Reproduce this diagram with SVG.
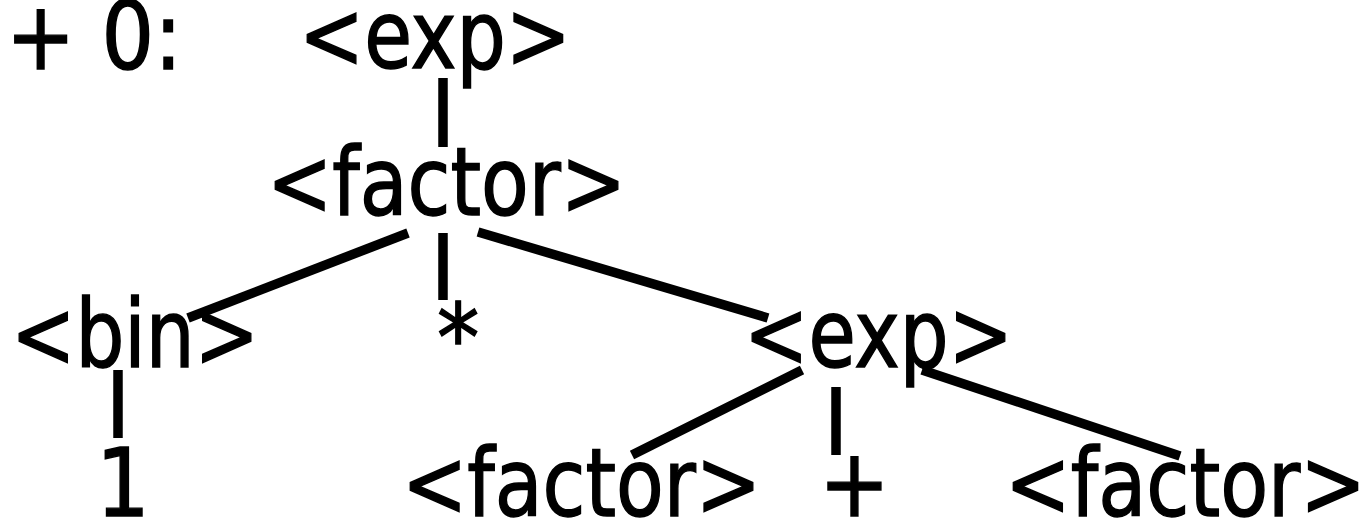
<svg xmlns="http://www.w3.org/2000/svg" width="1367" height="521" viewBox="0 0 1367 521">
<style>
text{font-family:"DejaVu Sans Condensed","DejaVu Sans",sans-serif;font-stretch:condensed;font-size:94px;fill:#000;stroke:#000;stroke-width:1.4}
.c line{stroke:#000;stroke-width:9.5}
</style>
<rect width="1367" height="521" fill="#fff"/>
<g id="label"><text x="6" y="69" textLength="176" lengthAdjust="spacingAndGlyphs">+ 0:</text></g>
<g id="n-exp1"><text x="299" y="68" textLength="272" lengthAdjust="spacingAndGlyphs">&lt;exp&gt;</text></g>
<g id="n-factor1"><text x="267" y="215" textLength="359" lengthAdjust="spacingAndGlyphs">&lt;factor&gt;</text></g>
<g id="n-bin"><text x="11" y="367" textLength="248" lengthAdjust="spacingAndGlyphs">&lt;bin&gt;</text></g>
<g id="n-star"><text x="437" y="371">*</text></g>
<g id="n-exp2"><text x="744" y="367" textLength="269" lengthAdjust="spacingAndGlyphs">&lt;exp&gt;</text></g>
<g id="n-one"><text x="96" y="516">1</text></g>
<g id="n-factor2"><text x="402" y="516" textLength="359" lengthAdjust="spacingAndGlyphs">&lt;factor&gt;</text></g>
<g id="n-plus"><text x="819" y="516">+</text></g>
<g id="n-factor3"><text x="1005" y="516" textLength="361" lengthAdjust="spacingAndGlyphs">&lt;factor&gt;</text></g>
<g id="connectors" class="c">
<line x1="443" y1="78" x2="443" y2="147"/>
<line x1="408" y1="233" x2="188" y2="318"/>
<line x1="443" y1="233" x2="443" y2="300"/>
<line x1="478" y1="232" x2="768" y2="318"/>
<line x1="118" y1="370" x2="118" y2="438"/>
<line x1="802" y1="370" x2="632" y2="455"/>
<line x1="836" y1="387" x2="836" y2="455"/>
<line x1="922" y1="370" x2="1180" y2="456"/>
</g>
</svg>
